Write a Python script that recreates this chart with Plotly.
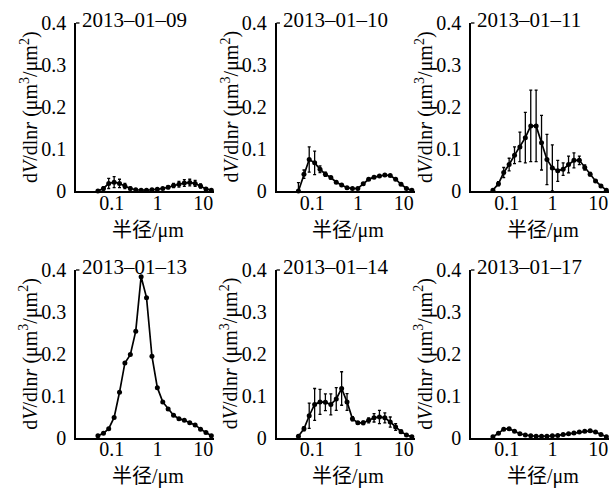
import plotly.graph_objects as go

radius = [0.050, 0.066, 0.086, 0.113, 0.148, 0.194, 0.255, 0.335, 0.439, 0.576, 0.756,
          0.992, 1.302, 1.708, 2.241, 2.940, 3.857, 5.061, 6.641, 8.713, 11.432, 15.000]

dates = ["2013–01–09", "2013–01–10", "2013–01–11", "2013–01–13", "2013–01–14", "2013–01–17"]

v_0109 = [0.000, 0.006, 0.018, 0.021, 0.018, 0.012, 0.006, 0.003, 0.002, 0.002, 0.003,
          0.004, 0.006, 0.009, 0.013, 0.016, 0.019, 0.020, 0.018, 0.012, 0.005, 0.002]
e_0109 = [0.000, 0.004, 0.012, 0.013, 0.010, 0.006, 0.003, 0.001, 0.001, 0.001, 0.001,
          0.001, 0.002, 0.003, 0.005, 0.007, 0.008, 0.008, 0.007, 0.005, 0.002, 0.001]

v_0110 = [0.000, 0.040, 0.075, 0.067, 0.052, 0.040, 0.032, 0.021, 0.014, 0.008, 0.006,
          0.006, 0.017, 0.028, 0.033, 0.036, 0.038, 0.037, 0.028, 0.016, 0.006, 0.002]
e_0110 = [0.020, 0.010, 0.030, 0.028, 0.008, 0.005, 0.003, 0.002, 0.002, 0.002, 0.002,
          0.002, 0.002, 0.002, 0.002, 0.002, 0.002, 0.002, 0.002, 0.002, 0.001, 0.001]

v_0111 = [0.002, 0.017, 0.044, 0.063, 0.085, 0.105, 0.127, 0.155, 0.155, 0.115, 0.075,
          0.055, 0.048, 0.052, 0.063, 0.073, 0.073, 0.056, 0.040, 0.024, 0.012, 0.002]
e_0111 = [0.001, 0.005, 0.012, 0.015, 0.020, 0.035, 0.060, 0.085, 0.085, 0.065, 0.060,
          0.055, 0.025, 0.015, 0.020, 0.018, 0.010, 0.006, 0.004, 0.003, 0.002, 0.001]

v_0113 = [0.004, 0.010, 0.021, 0.048, 0.108, 0.178, 0.198, 0.254, 0.384, 0.334, 0.194,
          0.119, 0.085, 0.068, 0.053, 0.045, 0.041, 0.035, 0.030, 0.020, 0.012, 0.004]
e_0113 = [0.000] * 22

v_0114 = [0.003, 0.021, 0.052, 0.079, 0.085, 0.084, 0.079, 0.092, 0.117, 0.085, 0.045,
          0.035, 0.035, 0.041, 0.047, 0.049, 0.047, 0.037, 0.025, 0.014, 0.006, 0.002]
e_0114 = [0.001, 0.005, 0.030, 0.038, 0.030, 0.020, 0.025, 0.027, 0.040, 0.020, 0.005,
          0.003, 0.004, 0.006, 0.010, 0.016, 0.012, 0.012, 0.008, 0.004, 0.002, 0.001]

v_0117 = [0.002, 0.010, 0.020, 0.021, 0.015, 0.009, 0.006, 0.004, 0.003, 0.003, 0.003,
          0.004, 0.005, 0.007, 0.009, 0.011, 0.013, 0.015, 0.016, 0.013, 0.007, 0.002]
e_0117 = [0.000] * 22

values = [v_0109, v_0110, v_0111, v_0113, v_0114, v_0117]
errors = [e_0109, e_0110, e_0111, e_0113, e_0114, e_0117]

x_ticks = [0.1, 1, 10]
x_ticktext = ["0.1", "1", "10"]
y_ticks = [0, 0.1, 0.2, 0.3, 0.4]
y_ticktext = ["0", "0.1", "0.2", "0.3", "0.4"]

W, H = 616, 491
col_px = [(76, 214), (276.5, 414.5), (471, 609)]
row_px = [(23, 191), (270, 437.5)]

SERIF = "Liberation Serif"
fig = go.Figure()
for i in range(6):
    r, c = divmod(i, 3)
    n = i + 1
    xa = "xaxis" if n == 1 else f"xaxis{n}"
    ya = "yaxis" if n == 1 else f"yaxis{n}"
    xr = "x" if n == 1 else f"x{n}"
    yr = "y" if n == 1 else f"y{n}"
    fig.add_trace(go.Scatter(
        x=radius, y=values[i], xaxis=xr, yaxis=yr, mode="lines+markers",
        line=dict(color="black", width=1.7),
        marker=dict(color="black", size=5),
        error_y=dict(type="data", array=errors[i], visible=True, color="black",
                     thickness=1.3, width=1.5),
        showlegend=False, cliponaxis=False))
    x0, x1 = col_px[c]
    y0, y1 = row_px[r]
    fig.layout[xa] = dict(
        domain=[x0 / W, x1 / W], type="log", range=[-1.78, 1.234],
        tickvals=x_ticks, ticktext=x_ticktext, showgrid=False, zeroline=False,
        showline=True, linecolor="black", linewidth=1.5, ticks="",
        ticklabelstandoff=-7,
        tickfont=dict(family=SERIF, size=20, color="black"),
        anchor=yr, automargin=False)
    fig.layout[ya] = dict(
        domain=[1 - y1 / H, 1 - y0 / H], range=[0, 0.4],
        tickvals=y_ticks, ticktext=y_ticktext, showgrid=False, zeroline=False,
        showline=True, linecolor="black", linewidth=1.5, ticks="",
        ticklabelstandoff=4,
        tickfont=dict(family=SERIF, size=20, color="black"),
        anchor=xr, automargin=False)
    # top cap stub on y axis
    fig.add_shape(type="line", xref=f"{xr} domain", yref=f"{yr} domain",
                  x0=0, x1=0.025, y0=1, y1=1, line=dict(color="black", width=1.3))
    fig.add_annotation(text=dates[i], xref=f"{xr} domain", yref=f"{yr} domain",
                       x=0.03, y=1, xanchor="left", yanchor="middle", yshift=3,
                       showarrow=False, font=dict(family=SERIF, size=21, color="black"))
    fig.add_annotation(text="d<i>V</i>/dln<i>r</i> (μm<sup>3</sup>/μm<sup>2</sup>)",
                       xref="paper", yref=f"{yr} domain", x=(x0 - 47) / W, y=0.5,
                       xanchor="center", yanchor="middle", textangle=-90,
                       showarrow=False, font=dict(family=SERIF, size=20, color="black"))
    fig.add_annotation(text="半径/μm", xref=f"{xr} domain", yref="paper",
                       x=0.52, y=1 - (y1 + 39) / H, xanchor="center", yanchor="middle",
                       showarrow=False,
                       font=dict(family=SERIF + ", Noto Sans CJK SC", size=20, color="black"))

fig.update_layout(width=W, height=H, margin=dict(l=0, r=0, t=0, b=0),
                  paper_bgcolor="white", plot_bgcolor="white")
fig.write_html("out.html", config={"displayModeBar": False},
               post_script="document.body.style.margin='0';document.body.style.padding='0';")
